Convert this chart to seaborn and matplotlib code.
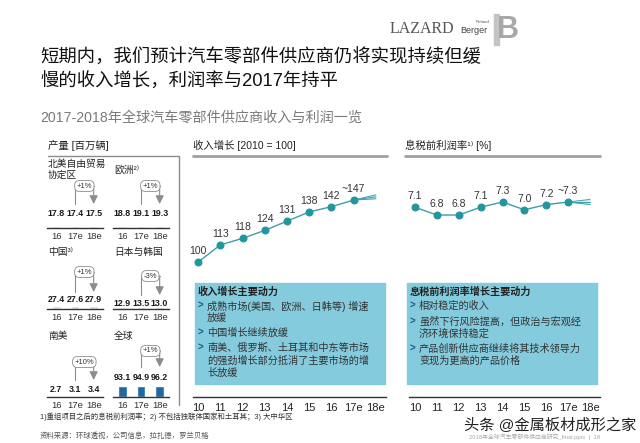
import numpy as np
import pandas as pd
import matplotlib.pyplot as plt
import seaborn as sns
from matplotlib.patches import Rectangle

# 数据
regioes = ['北美自由贸易\n协定区', '欧洲²⁾', '中国³⁾', '日本与韩国', '南美', '全球']
anos_prod = ['16', '17e', '18e']
prod_nafta = [17.8, 17.4, 17.5]
prod_europa = [18.8, 19.1, 19.3]
prod_china = [27.4, 27.6, 27.9]
prod_japao_coreia = [12.9, 13.5, 13.0]
prod_america_sul = [2.7, 3.1, 3.4]
prod_global = [93.1, 94.9, 96.2]
crescimento = ['+1%', '+1%', '+1%', '-3%', '+10%', '+1%']

anos = ['10', '11', '12', '13', '14', '15', '16', '17e', '18e']
receita = [100, 113, 118, 124, 131, 138, 142, 147]
receita_rotulos = ['100', '113', '118', '124', '131', '138', '142', '~147']
receita_leque = [148, 149.5, 151]
ebit = [7.1, 6.8, 6.8, 7.1, 7.3, 7.0, 7.2, 7.3]
ebit_rotulos = ['7.1', '6.8', '6.8', '7.1', '7.3', '7.0', '7.2', '~7.3']
ebit_leque = [7.2, 7.3, 7.4]

W, H = 640, 443
TEAL = '#3a9fa8'
TEAL_ESC = '#23959f'
AZUL_CAIXA = '#84cbdd'
AZUL_BARRA = '#1f68a3'
CINZA = '#8c8c8c'

sns.set_style('white')
plt.rcParams['font.family'] = ['Liberation Sans', 'Noto Sans CJK SC', 'DejaVu Sans']

fig = plt.figure(figsize=(6.4, 4.43), dpi=100)
tela = fig.add_axes([0, 0, 1, 1], zorder=0)
tela.set_xlim(0, W)
tela.set_ylim(H, 0)
tela.axis('off')


def eixo_px(x0, y0, x1, y1):
    # retângulo em pixels (topo-esquerda) -> fração da figura
    return fig.add_axes([x0 / W, 1 - y1 / H, (x1 - x0) / W, (y1 - y0) / H], zorder=2)


# Cabeçalho
tela.text(40, 58, '短期内，我们预计汽车零部件供应商仍将实现持续但缓', fontsize=13.2, color='#111', va='center')
tela.text(40, 82, '慢的收入增长，利润率与2017年持平', fontsize=13.2, color='#111', va='center')
tela.text(40, 118, '2017-2018年全球汽车零部件供应商收入与利润一览', fontsize=10.2, color='#7a7a7a', va='center')
tela.text(390, 29, 'LAZARD', family='Liberation Serif', fontsize=11.5, color='#555', va='center')
tela.text(476, 22, 'Roland', fontsize=3.2, color='#555', va='center')
tela.text(460, 30, 'Berger', fontsize=6.5, color='#444', va='center')
tela.add_patch(Rectangle((494, 14), 5, 31, color='#c4c4c4'))
tela.text(497, 30, 'B', fontsize=22, fontweight='bold', color='#a8a8a8', va='center')

# Painel de produção
tela.text(48, 145, '产量 [百万辆]', fontsize=7.5, color='#222', va='center')
tela.plot([48, 179], [156, 156], color=CINZA, lw=1)
tela.plot([179, 179], [156, 405], color=CINZA, lw=1)

paineis = [
    (regioes[0], prod_nafta, crescimento[0], 47, 228, 169, 213, 186, 204, '#dcdcdc'),
    (regioes[1], prod_europa, crescimento[1], 113, 228, 170, 213, 186, 204, '#dcdcdc'),
    (regioes[2], prod_china, crescimento[2], 47, 309, 252, 300, 272, 292, '#dcdcdc'),
    (regioes[3], prod_japao_coreia, crescimento[3], 113, 309, 252, 303, 276, 295, '#dcdcdc'),
    (regioes[4], prod_america_sul, crescimento[4], 47, 397, 336, 389, 362, 380, '#dcdcdc'),
    (regioes[5], prod_global, crescimento[5], 113, 397, 336, 377, 351, 367, AZUL_BARRA),
]
for nome, vals, cresc, x0, base, y_nome, y_val, y_bolha, y_ponta, cor in paineis:
    ax = eixo_px(x0, base - 40, x0 + 56, base)
    df = pd.DataFrame({'ano': anos_prod, 'valor': vals})
    sns.barplot(data=df, x='ano', y='valor', color=cor, width=0.48, ax=ax, saturation=1)
    ax.set_xlim(-0.5, 2.5)
    ax.set_ylim(0, 96.2 * 40 / 11.5)
    ax.patch.set_alpha(0)
    for s in ['top', 'right', 'left']:
        ax.spines[s].set_visible(False)
    ax.spines['bottom'].set_color('#333')
    ax.spines['bottom'].set_linewidth(1)
    ax.set_yticks([])
    ax.set_xlabel('')
    ax.set_ylabel('')
    ax.tick_params(axis='x', length=0, pad=3, labelsize=6.8, labelcolor='#333')
    xs = [x0 + 56 * (i + 0.5) / 3 for i in range(3)]
    tela.text(x0 + 1, y_nome, nome, fontsize=7, color='#222', va='center', linespacing=1.1)
    for xp, v in zip(xs, vals):
        tela.text(xp, y_val, f'{v:.1f}', fontsize=6.4, fontweight='bold', color='#1a1a1a', ha='center',
                  va='center')
    tela.plot([xs[1], xs[1], xs[2]], [y_ponta, y_bolha, y_bolha], color=CINZA, lw=0.8)
    tela.annotate('', xy=(xs[2], y_ponta), xytext=(xs[2], y_bolha),
                  arrowprops=dict(arrowstyle='-|>,head_width=0.25,head_length=0.5', color=CINZA, lw=0.8,
                                  shrinkA=0, shrinkB=0))
    tela.text((xs[1] + xs[2]) / 2, y_bolha, cresc, fontsize=5.5, color='#333', ha='center', va='center',
              bbox=dict(boxstyle='round,pad=0.25,rounding_size=0.6', fc='white', ec=CINZA, lw=0.6))

# Caixas de texto azuis
tela.add_patch(Rectangle((195, 283), 190, 101, color=AZUL_CAIXA, zorder=0))
tela.add_patch(Rectangle((407, 283), 190, 101, color=AZUL_CAIXA, zorder=0))


def caixa(x, titulo, itens):
    tela.text(x + 3, 292, titulo, fontsize=7.3, fontweight='bold', color='#222', va='center')
    for y, marca, linha in itens:
        if marca:
            tela.text(x + 3, y, '>', fontsize=7, fontweight='bold', color='#1f5a8c', va='center')
        tela.text(x + 12, y, linha, fontsize=7.3, color='#333', va='center')


caixa(195, '收入增长主要动力', [
    (306, True, '成熟市场(美国、欧洲、日韩等) 增速'),
    (318, False, '放缓'),
    (333, True, '中国增长继续放缓'),
    (348, True, '南美、俄罗斯、土耳其和中东等市场'),
    (361, False, '的强劲增长部分抵消了主要市场的增'),
    (373, False, '长放缓'),
])
caixa(407, '息税前利润率增长主要动力', [
    (306, True, '相对稳定的收入'),
    (322, True, '虽然下行风险提高，但政治与宏观经'),
    (334, False, '济环境保持稳定'),
    (349, True, '产品创新供应商继续将其技术领导力'),
    (361, False, '变现为更高的产品价格'),
])

# Gráficos de linha
tela.text(193, 145, '收入增长 [2010 = 100]', fontsize=7.5, color='#222', va='center')
tela.plot([193, 387], [156, 156], color='#a0a0a0', lw=2)
tela.text(405, 145, '息税前利润率¹⁾ [%]', fontsize=7.5, color='#222', va='center')
tela.plot([405, 600], [156, 156], color='#a0a0a0', lw=2)


def grafico_linha(x0, x1, valores, rotulos, leque, ylim):
    ax = eixo_px(x0, 156, x1, 397)
    ax.patch.set_alpha(0)
    xs = np.arange(len(valores))
    ult = valores[-1]
    for v in leque:
        ax.plot([xs[-1], xs[-1] + 1], [ult, v], color=TEAL, lw=0.7)
    ax.fill_between([xs[-1], xs[-1] + 1], [ult, min(leque)], [ult, max(leque)], color=TEAL, alpha=0.2, lw=0)
    sns.lineplot(x=xs, y=valores, ax=ax, color=TEAL, lw=1, marker='o', markersize=5,
                 markerfacecolor=TEAL_ESC, markeredgecolor=TEAL_ESC)
    for xi, v, r in zip(xs, valores, rotulos):
        ax.annotate(r, (xi, v), xytext=(0, 8), textcoords='offset points', ha='center', va='center',
                    fontsize=7.5, color='#333')
    ax.set_xlim(-0.5, 8.5)
    ax.set_ylim(*ylim)
    ax.set_xticks(range(len(anos)))
    ax.set_xticklabels(anos)
    ax.set_yticks([])
    for s in ['top', 'right', 'left']:
        ax.spines[s].set_visible(False)
    ax.spines['bottom'].set_color('#333')
    ax.spines['bottom'].set_linewidth(1)
    ax.spines['bottom'].set_bounds(-0.25, 8.45)
    ax.tick_params(axis='x', length=0, pad=4, labelsize=8, labelcolor='#222')
    return ax


grafico_linha(187, 387, receita, receita_rotulos, receita_leque, (-2.3, 180.4))
grafico_linha(404, 601, ebit, ebit_rotulos, ebit_leque, (-0.2, 9.07))

# Notas e marcas
tela.text(40, 417, '1)重组项目之后的息税前利润率；2) 不包括独联体国家和土耳其；3) 大中华区', fontsize=5.3,
          color='#333', va='center')
tela.text(40, 436, '资料来源：环球透视，公司信息，拉扎德，罗兰贝格', fontsize=5.3, color='#555', va='center')
tela.text(600, 437, '2018年全球汽车零部件供应商研究_final.pptx  |  18', fontsize=4.2, color='#aaa',
          va='center', ha='right')
tela.text(636, 425, '头条 @金属板材成形之家', fontsize=11, color='#222', va='center', ha='right')

fig.savefig('out.png', dpi=100)
